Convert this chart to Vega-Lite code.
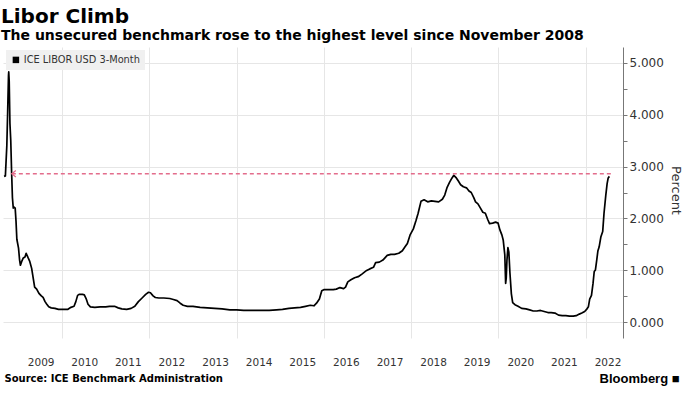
{
  "$schema": "https://vega.github.io/schema/vega-lite/v6.json",
  "autosize": "none",
  "width": 620,
  "height": 291,
  "padding": {"left": 3, "top": 47, "right": 65, "bottom": 57},
  "background": "white",
  "config": {
    "view": {"stroke": null},
    "font": "DejaVu Sans",
    "axis": {"labelFont": "DejaVu Sans", "titleFont": "DejaVu Sans"}
  },
  "title": {
    "text": "Libor Climb",
    "subtitle": "The unsecured benchmark rose to the highest level since November 2008",
    "anchor": "start",
    "frame": "group",
    "font": "DejaVu Sans",
    "fontSize": 20,
    "fontWeight": "bold",
    "color": "#000",
    "subtitleFont": "DejaVu Sans",
    "subtitleFontSize": 14,
    "subtitleFontWeight": "bold",
    "subtitleColor": "#000",
    "subtitlePadding": 2,
    "offset": 4,
    "dx": -2
  },
  "datasets": {
    "libor": [
      {"date": "2008-09-01", "v": 2.81},
      {"date": "2008-09-12", "v": 2.82},
      {"date": "2008-09-17", "v": 3.06},
      {"date": "2008-09-24", "v": 3.40},
      {"date": "2008-10-01", "v": 4.05},
      {"date": "2008-10-08", "v": 4.75},
      {"date": "2008-10-10", "v": 4.82},
      {"date": "2008-10-14", "v": 4.64},
      {"date": "2008-10-20", "v": 3.83},
      {"date": "2008-10-27", "v": 3.50},
      {"date": "2008-11-03", "v": 2.90},
      {"date": "2008-11-10", "v": 2.40},
      {"date": "2008-11-17", "v": 2.20},
      {"date": "2008-11-24", "v": 2.22},
      {"date": "2008-12-03", "v": 2.20},
      {"date": "2008-12-10", "v": 1.95},
      {"date": "2008-12-17", "v": 1.60},
      {"date": "2008-12-31", "v": 1.43},
      {"date": "2009-01-09", "v": 1.20},
      {"date": "2009-01-16", "v": 1.10},
      {"date": "2009-01-26", "v": 1.17},
      {"date": "2009-02-09", "v": 1.24},
      {"date": "2009-02-23", "v": 1.26},
      {"date": "2009-03-05", "v": 1.33},
      {"date": "2009-03-20", "v": 1.25},
      {"date": "2009-04-03", "v": 1.18},
      {"date": "2009-04-20", "v": 1.04},
      {"date": "2009-05-01", "v": 0.88},
      {"date": "2009-05-15", "v": 0.68},
      {"date": "2009-06-01", "v": 0.64},
      {"date": "2009-06-20", "v": 0.56},
      {"date": "2009-07-10", "v": 0.51},
      {"date": "2009-07-25", "v": 0.48},
      {"date": "2009-08-10", "v": 0.40},
      {"date": "2009-08-25", "v": 0.35},
      {"date": "2009-09-10", "v": 0.30},
      {"date": "2009-10-01", "v": 0.28},
      {"date": "2009-11-01", "v": 0.27},
      {"date": "2009-12-01", "v": 0.25},
      {"date": "2010-01-05", "v": 0.25},
      {"date": "2010-02-15", "v": 0.25},
      {"date": "2010-03-15", "v": 0.29},
      {"date": "2010-04-10", "v": 0.31},
      {"date": "2010-04-25", "v": 0.40},
      {"date": "2010-05-10", "v": 0.52},
      {"date": "2010-05-25", "v": 0.54},
      {"date": "2010-06-20", "v": 0.54},
      {"date": "2010-07-05", "v": 0.53},
      {"date": "2010-07-20", "v": 0.46},
      {"date": "2010-08-05", "v": 0.35},
      {"date": "2010-08-25", "v": 0.30},
      {"date": "2010-10-01", "v": 0.29},
      {"date": "2010-11-15", "v": 0.30},
      {"date": "2010-12-31", "v": 0.30},
      {"date": "2011-02-01", "v": 0.31},
      {"date": "2011-03-15", "v": 0.31},
      {"date": "2011-04-15", "v": 0.28},
      {"date": "2011-05-15", "v": 0.26},
      {"date": "2011-06-25", "v": 0.25},
      {"date": "2011-08-01", "v": 0.27},
      {"date": "2011-09-01", "v": 0.31},
      {"date": "2011-10-01", "v": 0.40},
      {"date": "2011-11-01", "v": 0.47},
      {"date": "2011-12-01", "v": 0.54},
      {"date": "2011-12-25", "v": 0.58},
      {"date": "2012-01-10", "v": 0.57},
      {"date": "2012-02-01", "v": 0.51},
      {"date": "2012-02-20", "v": 0.48},
      {"date": "2012-03-20", "v": 0.47},
      {"date": "2012-05-01", "v": 0.47},
      {"date": "2012-06-20", "v": 0.46},
      {"date": "2012-07-20", "v": 0.44},
      {"date": "2012-08-20", "v": 0.42},
      {"date": "2012-09-15", "v": 0.37},
      {"date": "2012-10-10", "v": 0.33},
      {"date": "2012-11-15", "v": 0.31},
      {"date": "2012-12-31", "v": 0.31},
      {"date": "2013-03-01", "v": 0.29},
      {"date": "2013-05-01", "v": 0.28},
      {"date": "2013-07-01", "v": 0.27},
      {"date": "2013-09-01", "v": 0.26},
      {"date": "2013-11-05", "v": 0.24},
      {"date": "2014-01-01", "v": 0.24},
      {"date": "2014-03-01", "v": 0.23},
      {"date": "2014-06-01", "v": 0.23},
      {"date": "2014-08-01", "v": 0.23},
      {"date": "2014-10-01", "v": 0.23},
      {"date": "2014-12-01", "v": 0.24},
      {"date": "2015-01-20", "v": 0.25},
      {"date": "2015-03-15", "v": 0.27},
      {"date": "2015-05-01", "v": 0.28},
      {"date": "2015-06-20", "v": 0.29},
      {"date": "2015-08-01", "v": 0.31},
      {"date": "2015-09-10", "v": 0.33},
      {"date": "2015-10-10", "v": 0.32},
      {"date": "2015-11-01", "v": 0.37},
      {"date": "2015-11-25", "v": 0.45},
      {"date": "2015-12-15", "v": 0.61},
      {"date": "2016-01-01", "v": 0.63},
      {"date": "2016-02-15", "v": 0.63},
      {"date": "2016-03-20", "v": 0.63},
      {"date": "2016-04-15", "v": 0.64},
      {"date": "2016-05-15", "v": 0.67},
      {"date": "2016-06-15", "v": 0.65},
      {"date": "2016-07-01", "v": 0.68},
      {"date": "2016-07-20", "v": 0.78},
      {"date": "2016-08-15", "v": 0.82},
      {"date": "2016-09-15", "v": 0.86},
      {"date": "2016-10-15", "v": 0.88},
      {"date": "2016-11-15", "v": 0.93},
      {"date": "2016-12-25", "v": 1.00},
      {"date": "2017-01-20", "v": 1.03},
      {"date": "2017-02-20", "v": 1.06},
      {"date": "2017-03-10", "v": 1.15},
      {"date": "2017-04-10", "v": 1.16},
      {"date": "2017-05-10", "v": 1.20},
      {"date": "2017-06-15", "v": 1.29},
      {"date": "2017-07-15", "v": 1.31},
      {"date": "2017-08-15", "v": 1.31},
      {"date": "2017-09-20", "v": 1.33},
      {"date": "2017-10-20", "v": 1.38},
      {"date": "2017-11-10", "v": 1.45},
      {"date": "2017-12-01", "v": 1.52},
      {"date": "2017-12-25", "v": 1.69},
      {"date": "2018-01-20", "v": 1.80},
      {"date": "2018-02-10", "v": 1.95},
      {"date": "2018-03-01", "v": 2.10},
      {"date": "2018-03-25", "v": 2.33},
      {"date": "2018-04-20", "v": 2.36},
      {"date": "2018-05-20", "v": 2.32},
      {"date": "2018-06-20", "v": 2.34},
      {"date": "2018-07-20", "v": 2.33},
      {"date": "2018-08-20", "v": 2.32},
      {"date": "2018-09-20", "v": 2.37},
      {"date": "2018-10-10", "v": 2.45},
      {"date": "2018-10-30", "v": 2.60},
      {"date": "2018-11-20", "v": 2.70},
      {"date": "2018-12-10", "v": 2.78},
      {"date": "2018-12-25", "v": 2.83},
      {"date": "2019-01-15", "v": 2.78},
      {"date": "2019-02-01", "v": 2.72},
      {"date": "2019-02-20", "v": 2.65},
      {"date": "2019-03-15", "v": 2.61},
      {"date": "2019-04-10", "v": 2.59},
      {"date": "2019-05-01", "v": 2.53},
      {"date": "2019-05-20", "v": 2.50},
      {"date": "2019-06-10", "v": 2.40},
      {"date": "2019-06-25", "v": 2.32},
      {"date": "2019-07-15", "v": 2.28},
      {"date": "2019-08-05", "v": 2.20},
      {"date": "2019-08-25", "v": 2.12},
      {"date": "2019-09-15", "v": 2.10},
      {"date": "2019-10-05", "v": 1.98},
      {"date": "2019-10-20", "v": 1.90},
      {"date": "2019-11-15", "v": 1.91},
      {"date": "2019-12-10", "v": 1.93},
      {"date": "2019-12-31", "v": 1.91},
      {"date": "2020-01-15", "v": 1.78},
      {"date": "2020-02-01", "v": 1.68},
      {"date": "2020-02-12", "v": 1.58},
      {"date": "2020-02-25", "v": 1.30},
      {"date": "2020-03-03", "v": 0.75},
      {"date": "2020-03-08", "v": 0.85},
      {"date": "2020-03-14", "v": 1.20},
      {"date": "2020-03-22", "v": 1.44},
      {"date": "2020-03-30", "v": 1.35},
      {"date": "2020-04-08", "v": 0.95},
      {"date": "2020-04-20", "v": 0.55},
      {"date": "2020-05-01", "v": 0.38},
      {"date": "2020-05-20", "v": 0.34},
      {"date": "2020-06-15", "v": 0.31},
      {"date": "2020-07-15", "v": 0.27},
      {"date": "2020-08-20", "v": 0.26},
      {"date": "2020-09-20", "v": 0.24},
      {"date": "2020-10-20", "v": 0.22},
      {"date": "2020-11-20", "v": 0.22},
      {"date": "2020-12-20", "v": 0.23},
      {"date": "2021-01-20", "v": 0.21},
      {"date": "2021-02-20", "v": 0.19},
      {"date": "2021-03-20", "v": 0.19},
      {"date": "2021-04-20", "v": 0.18},
      {"date": "2021-05-20", "v": 0.14},
      {"date": "2021-06-20", "v": 0.13},
      {"date": "2021-07-20", "v": 0.13},
      {"date": "2021-08-20", "v": 0.12},
      {"date": "2021-09-20", "v": 0.12},
      {"date": "2021-10-15", "v": 0.13},
      {"date": "2021-11-10", "v": 0.16},
      {"date": "2021-12-01", "v": 0.18},
      {"date": "2021-12-25", "v": 0.21},
      {"date": "2022-01-10", "v": 0.25},
      {"date": "2022-01-25", "v": 0.30},
      {"date": "2022-02-05", "v": 0.45},
      {"date": "2022-02-20", "v": 0.52},
      {"date": "2022-03-05", "v": 0.75},
      {"date": "2022-03-15", "v": 0.98},
      {"date": "2022-03-25", "v": 1.01},
      {"date": "2022-04-05", "v": 1.20},
      {"date": "2022-04-15", "v": 1.38},
      {"date": "2022-04-25", "v": 1.45},
      {"date": "2022-05-10", "v": 1.65},
      {"date": "2022-05-25", "v": 1.75},
      {"date": "2022-06-05", "v": 2.10},
      {"date": "2022-06-20", "v": 2.45},
      {"date": "2022-07-01", "v": 2.67},
      {"date": "2022-07-10", "v": 2.78},
      {"date": "2022-07-20", "v": 2.81}
    ],
    "ref": [
      {"date": "2008-11-05", "end": "2022-08-01", "v": 2.86}
    ]
  },
  "encoding": {
    "x": {
      "field": "date",
      "type": "temporal",
      "scale": {
        "type": "utc",
        "domain": [
          {"year": 2008, "month": 8, "date": 23, "utc": true},
          {"year": 2022, "month": 11, "date": 11, "utc": true}
        ]
      },
      "axis": {
        "orient": "bottom",
        "title": "Source: ICE Benchmark Administration",
        "titleFont": "DejaVu Sans",
        "titleFontSize": 10,
        "titleFontWeight": "bold",
        "titleColor": "#000",
        "titleAnchor": "start",
        "titleAlign": "left",
        "titleBaseline": "middle",
        "titleX": 1,
        "titleY": 40,
        "values": [
          {"year": 2009, "month": 1, "date": 1, "utc": true},
          {"year": 2010, "month": 1, "date": 1, "utc": true},
          {"year": 2011, "month": 1, "date": 1, "utc": true},
          {"year": 2012, "month": 1, "date": 1, "utc": true},
          {"year": 2013, "month": 1, "date": 1, "utc": true},
          {"year": 2014, "month": 1, "date": 1, "utc": true},
          {"year": 2015, "month": 1, "date": 1, "utc": true},
          {"year": 2016, "month": 1, "date": 1, "utc": true},
          {"year": 2017, "month": 1, "date": 1, "utc": true},
          {"year": 2018, "month": 1, "date": 1, "utc": true},
          {"year": 2019, "month": 1, "date": 1, "utc": true},
          {"year": 2020, "month": 1, "date": 1, "utc": true},
          {"year": 2021, "month": 1, "date": 1, "utc": true},
          {"year": 2022, "month": 1, "date": 1, "utc": true}
        ],
        "labelExpr": "utcFormat(datum.value, '%Y')",
        "labelOffset": 22,
        "labelFontSize": 10.5,
        "labelColor": "#333",
        "labelPadding": 19,
        "labelFlush": false,
        "labelOverlap": false,
        "ticks": false,
        "tickSize": 0,
        "domain": false,
        "grid": true,
        "gridColor": {"condition": {"test": "utcyear(datum.value) % 2 === 0", "value": "#e6e6e6"}, "value": "rgba(0,0,0,0)"},
        "gridWidth": 1
      }
    },
    "y": {
      "field": "v",
      "type": "quantitative",
      "scale": {"domain": [-0.3, 5.3], "nice": false, "zero": false},
      "axis": {
        "orient": "right",
        "title": "Percent",
        "titleFont": "DejaVu Sans",
        "titleFontSize": 13,
        "titleFontWeight": "normal",
        "titleColor": "#333",
        "titleAngle": 90,
        "titleAlign": "center",
        "titleBaseline": "middle",
        "titleX": 52,
        "titleY": 143,
        "values": [0, 0.5, 1, 1.5, 2, 2.5, 3, 3.5, 4, 4.5, 5],
        "labelExpr": "datum.value % 1 === 0 ? format(datum.value, '.3f') : ''",
        "labelFontSize": 12,
        "labelColor": "#333",
        "labelPadding": 2,
        "tickSize": 4,
        "tickColor": "#777",
        "domainColor": "#777",
        "grid": true,
        "gridColor": {"condition": {"test": "datum.value % 1 === 0", "value": "#e6e6e6"}, "value": "rgba(0,0,0,0)"},
        "gridWidth": 1
      }
    }
  },
  "layer": [
    {
      "layer": [
        {
          "data": {"name": "libor"},
          "mark": {"type": "line", "strokeWidth": 1.7, "strokeJoin": "round"},
          "encoding": {
            "color": {
              "datum": "ICE LIBOR USD 3-Month",
              "scale": {"range": ["#000000"]},
              "legend": {
                "orient": "top-left",
                "offset": 3,
                "title": null,
                "fillColor": "#f0f0f0",
                "padding": 5,
                "symbolType": "square",
                "symbolSize": 42,
                "symbolFillColor": "#000",
                "symbolStrokeColor": "#000",
                "symbolStrokeWidth": 0,
                "labelFont": "DejaVu Sans",
                "labelFontSize": 9.8,
                "labelColor": "#333",
                "labelOffset": 3
              }
            }
          }
        },
        {
          "data": {"name": "ref"},
          "mark": {"type": "rule", "color": "#e36d8c", "strokeWidth": 1.6, "strokeDash": [4, 3]},
          "encoding": {"x2": {"field": "end"}}
        },
        {
          "data": {"name": "ref"},
          "mark": {"type": "point", "shape": "M1,-0.8L0,0L1,0.8", "size": 64, "filled": false, "color": "#e36d8c", "strokeWidth": 1.3, "opacity": 1}
        }
      ]
    },
    {
      "data": {"name": "ref"},
      "mark": {"type": "point", "opacity": 0},
      "encoding": {
        "y": {
          "field": "v",
          "type": "quantitative",
          "axis": {
            "orient": "left",
            "labels": false,
            "ticks": false,
            "domain": false,
            "grid": false,
            "title": "Bloomberg ■",
            "titleFont": "Liberation Sans",
            "titleFontSize": 13,
            "titleFontWeight": "bold",
            "titleColor": "#000",
            "titleAngle": 0,
            "titleAlign": "left",
            "titleBaseline": "middle",
            "titleX": 596,
            "titleY": 331
          }
        }
      }
    }
  ],
  "resolve": {"axis": {"y": "independent"}}
}
